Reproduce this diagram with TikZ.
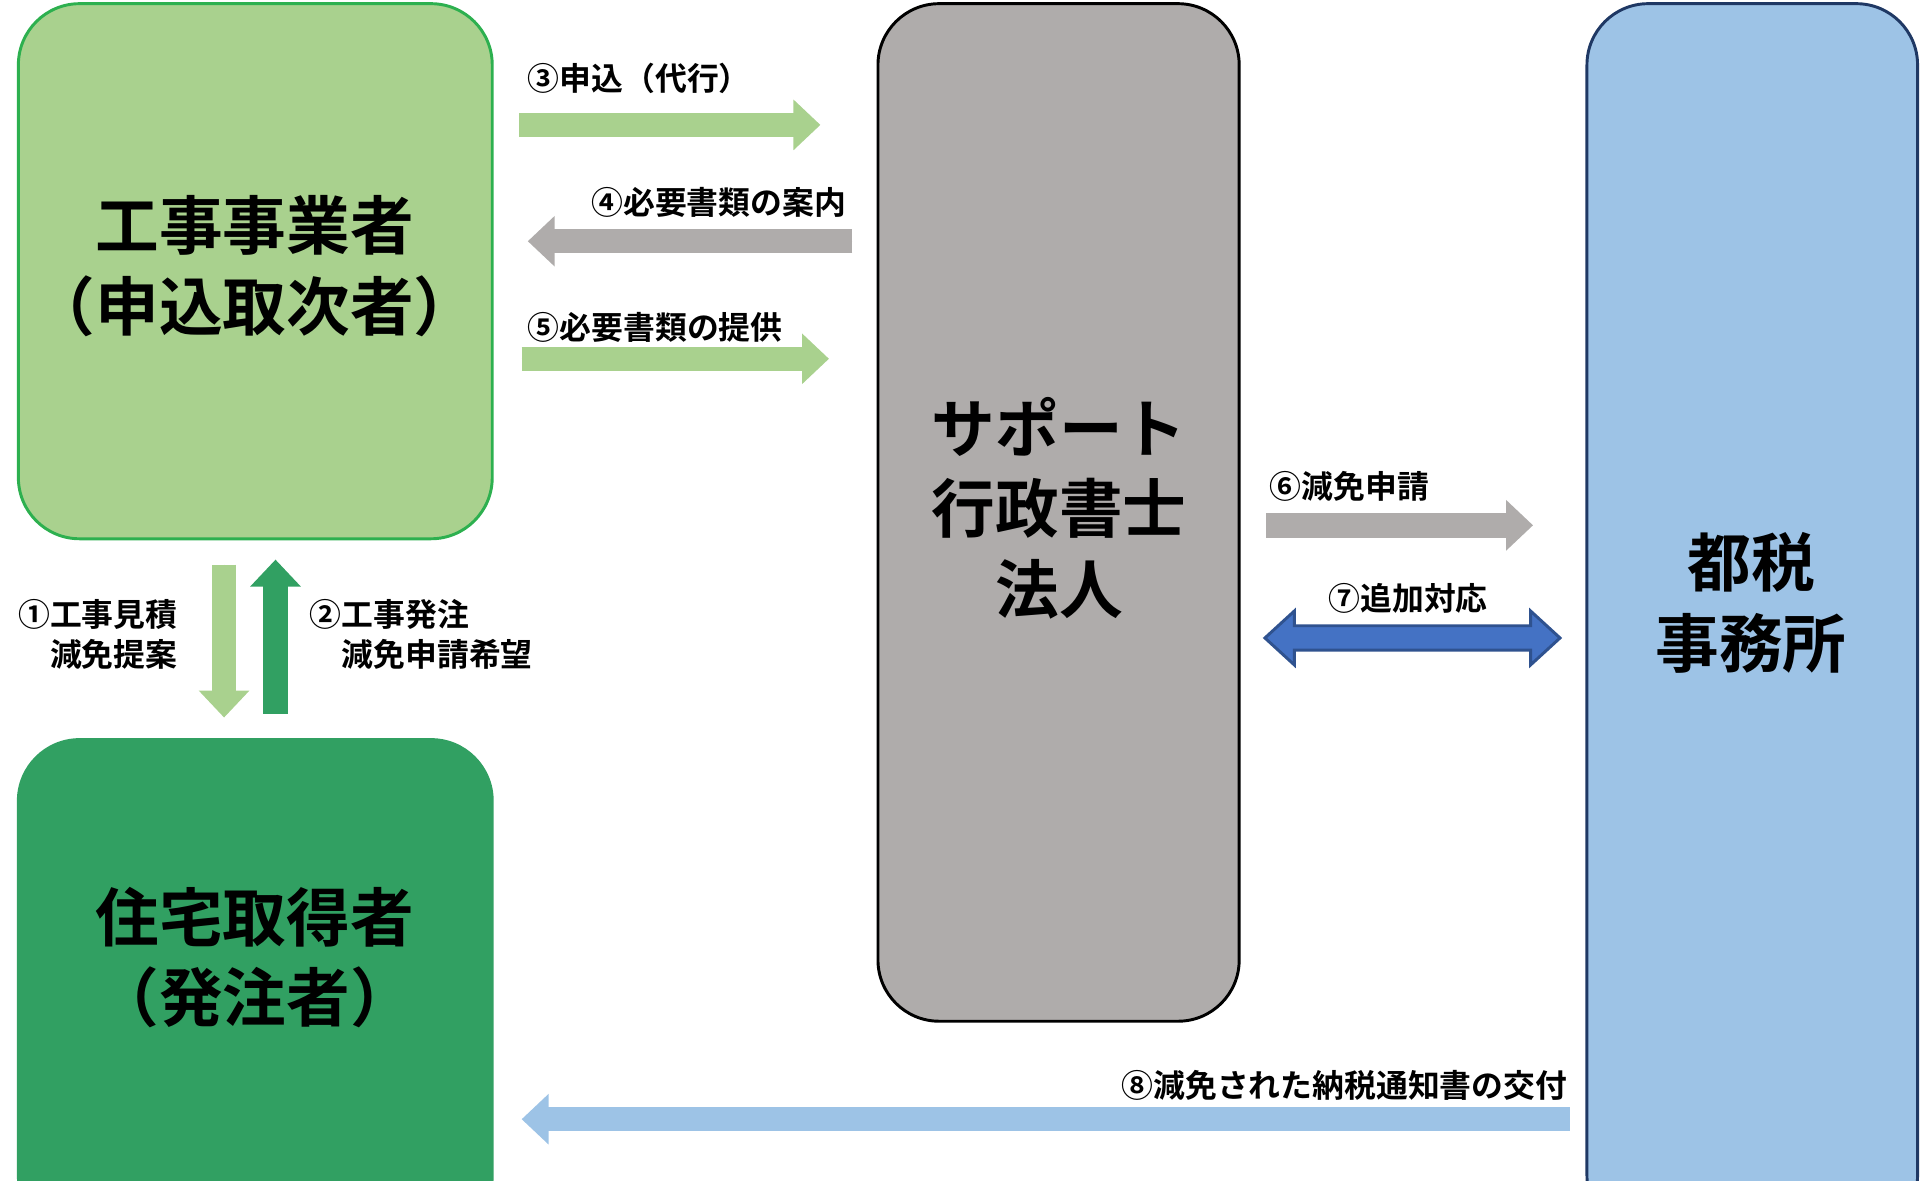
\documentclass[tikz,border=0pt]{standalone}
\usepackage{fontspec}
\setmainfont{Noto Sans CJK JP}[BoldFont={* Bold}]
\usetikzlibrary{arrows.meta}
\definecolor{lg}{HTML}{A9D18E}
\definecolor{lgb}{HTML}{2DB04F}
\definecolor{dg}{HTML}{31A062}
\definecolor{gr}{HTML}{AFACAB}
\definecolor{lb}{HTML}{9DC3E6}
\definecolor{nv}{HTML}{1F3864}
\definecolor{bl}{HTML}{4472C4}
\definecolor{blb}{HTML}{2F528F}
\begin{document}
\begin{tikzpicture}[x=0.5pt,y=-0.5pt,
  box/.style={rounded corners=25pt,line width=1.2pt},
  big/.style={font=\fontsize{26}{33}\selectfont\bfseries,align=center},
  lab/.style={font=\fontsize{13}{16.5}\selectfont\bfseries},
  barrow/.style={line width=10pt,-{Triangle[length=11pt,width=20pt]}}]
\useasboundingbox (0,0) rectangle (1568,964);
\begin{scope}
\clip (0,0) rectangle (1568,964);
\draw[box,fill=lg,draw=lgb] (15,3) rectangle (402,440);
\draw[box,fill=dg,draw=dg] (15,604) rectangle (402,1010);
\draw[box,fill=gr,draw=black] (717,3) rectangle (1012,834);
\draw[box,fill=lb,draw=nv] (1296,3) rectangle (1566,1010);
\end{scope}
\node[big] (a) at (208,217) {工事事業者\\（申込取次者）};
\node[big] (b) at (208,782) {住宅取得者\\（発注者）};
\node[big] (c) at (865,415) {サポート\\行政書士\\法人};
\node[big] (d) at (1430,492) {都税\\事務所};
% coordinates
\coordinate (a3s) at (424,102); \coordinate (a3e) at (670,102);
\coordinate (a4s) at (696,197); \coordinate (a4e) at (431,197);
\coordinate (a5s) at (426,293); \coordinate (a5e) at (677,293);
\coordinate (a6s) at (1034,429); \coordinate (a6e) at (1252,429);
\coordinate (a8s) at (1282,914); \coordinate (a8e) at (426,914);
\coordinate (a1s) at (183,461); \coordinate (a1e) at (183,586);
\coordinate (a2s) at (225,583); \coordinate (a2e) at (225,457);
\draw[barrow,draw=lg,fill=lg] (a3s) -- (a3e);
\draw[barrow,draw=gr,fill=gr] (a4s) -- (a4e);
\draw[barrow,draw=lg,fill=lg] (a5s) -- (a5e);
\draw[barrow,draw=gr,fill=gr] (a6s) -- (a6e);
\draw[barrow,draw=lb,fill=lb] (a8s) -- (a8e);
\draw[barrow,draw=lg,fill=lg] (a1s) -- (a1e);
\draw[barrow,draw=dg,fill=dg] (a2s) -- (a2e);
% double arrow 7
\draw[fill=bl,draw=blb,line width=1.2pt] (1033,521) -- (1057,499) -- (1057,511) -- (1250,511) -- (1250,499) -- (1274,521) -- (1250,543) -- (1250,531) -- (1057,531) -- (1057,543) -- cycle;
% labels
\node[lab,anchor=west] (l3) at (424,64) {③申込（代行）};
\node[lab,anchor=east] (l4) at (698,165) {④必要書類の案内};
\node[lab,anchor=west] (l5) at (424,267) {⑤必要書類の提供};
\node[lab,anchor=west] (l6) at (1030,397) {⑥減免申請};
\node[lab] (l7) at (1150,489) {⑦追加対応};
\node[lab,anchor=east] (l8) at (1287,886) {⑧減免された納税通知書の交付};
\node[lab,anchor=east,align=right] (l1) at (152,518) {①工事見積\\減免提案};
\node[lab,anchor=west,align=left] (l2) at (246,518) {②工事発注\\\hspace*{1em}減免申請希望};
\end{tikzpicture}
\end{document}
